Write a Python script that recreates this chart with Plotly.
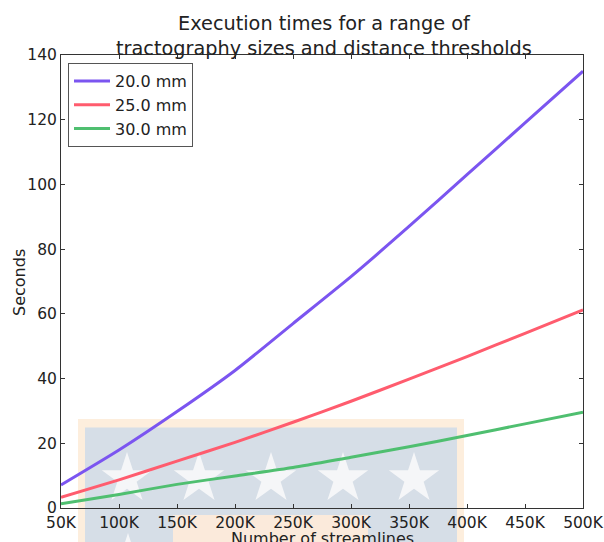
import math
import plotly.graph_objects as go

# ---- data ----
streamlines = [50000, 100000, 150000, 200000, 250000, 300000, 350000, 400000, 450000, 500000]
tick_vals = [50000, 100000, 150000, 200000, 250000, 300000, 350000, 400000, 450000, 500000]
tick_text = ["50K", "100K", "150K", "200K", "250K", "300K", "350K", "400K", "450K", "500K"]
y_ticks = [0, 20, 40, 60, 80, 100, 120, 140]
t_20mm = [7.1, 17.9, 29.8, 42.5, 57.0, 71.5, 87.0, 103.0, 119.0, 135.0]
t_25mm = [3.3, 8.7, 14.5, 20.3, 26.5, 33.0, 39.8, 46.8, 54.0, 61.2]
t_30mm = [1.3, 4.2, 7.3, 9.9, 12.5, 15.7, 18.9, 22.4, 26.0, 29.6]
series_names = ["20.0 mm", "25.0 mm", "30.0 mm"]
series_colors = ["#7b55f0", "#ff5c6e", "#4fbf70"]

W, H = 604, 542
L, R, T, B = 61, 21, 55, 34
PW, PH = W - L - R, H - T - B
FONT = "DejaVu Sans"


def px(x):
    return (x - L) / PW


def py(y):
    return (H - B - y) / PH


fig = go.Figure()
for name, vals, col in zip(series_names, [t_20mm, t_25mm, t_30mm], series_colors):
    fig.add_trace(go.Scatter(x=streamlines, y=vals, mode="lines", name=name,
                             line=dict(color=col, width=3, shape="spline", smoothing=0.6)))

shapes = []
# watermark-like overlay in the lower part of the picture
shapes.append(dict(type="rect", xref="paper", yref="paper", layer="below",
                   x0=px(78), x1=px(464), y0=py(560), y1=py(419),
                   fillcolor="#fdeedd", line=dict(width=0)))
shapes.append(dict(type="rect", xref="paper", yref="paper", layer="below",
                   x0=px(85), x1=px(457), y0=py(560), y1=py(427.5),
                   fillcolor="#d6dee7", line=dict(width=0)))
shapes.append(dict(type="rect", xref="paper", yref="paper", layer="below",
                   x0=px(173), x1=px(368), y0=py(560), y1=py(515),
                   fillcolor="#fbeadb", line=dict(width=0)))


def star(cx, cy, Ro):
    ri = Ro * 0.382
    pts = []
    for k in range(10):
        ang = -math.pi / 2 + k * math.pi / 5
        rr = Ro if k % 2 == 0 else ri
        pts.append((px(cx + rr * math.cos(ang)), py(cy + rr * math.sin(ang))))
    return "M" + " L".join(f"{a:.5f},{b:.5f}" for a, b in pts) + " Z"


for cx in [127, 199, 271, 343, 414]:
    shapes.append(dict(type="path", xref="paper", yref="paper", layer="below",
                       path=star(cx, 478.5, 26.5), fillcolor="#f5f6f8", line=dict(width=0)))
shapes.append(dict(type="path", xref="paper", yref="paper", layer="below",
                   path=star(128, 559.5, 26.5), fillcolor="#f5f6f8", line=dict(width=0)))

axis_common = dict(showline=True, linecolor="#333", linewidth=1, mirror="ticks",
                   ticks="inside", ticklen=4, tickcolor="#333", showgrid=False,
                   zeroline=False, automargin=False,
                   tickfont=dict(family=FONT, size=15.5, color="#222"))

fig.update_layout(
    width=W, height=H,
    margin=dict(l=L, r=R, t=T, b=B, autoexpand=False),
    paper_bgcolor="white", plot_bgcolor="rgba(0,0,0,0)",
    font=dict(family=FONT, color="#222"),
    xaxis=dict(range=[50000, 500000], tickvals=tick_vals, ticktext=tick_text, **axis_common),
    yaxis=dict(range=[0, 140], tickvals=y_ticks, **axis_common),
    showlegend=True,
    legend=dict(x=px(68), y=py(63), xanchor="left", yanchor="top",
                bgcolor="white", bordercolor="#555", borderwidth=1,
                font=dict(family=FONT, size=16, color="#222"), itemwidth=36,
                tracegroupgap=0),
    shapes=shapes,
    annotations=[
        dict(text="Execution times for a range of<br>tractography sizes and distance thresholds",
             xref="paper", yref="paper", x=px(324), y=py(10), xanchor="center", yanchor="top",
             showarrow=False, font=dict(family=FONT, size=19.3, color="#222")),
        dict(text="Seconds", xref="paper", yref="paper", x=px(19), y=py(283),
             xanchor="center", yanchor="middle", textangle=-90, showarrow=False,
             font=dict(family=FONT, size=16, color="#222")),
        dict(text="Number of streamlines", xref="paper", yref="paper", x=px(322), y=py(527),
             xanchor="center", yanchor="top", showarrow=False,
             font=dict(family=FONT, size=16, color="#222")),
    ],
)

fig.write_html("out.html", config={"displayModeBar": False},
               post_script="document.body.style.margin='0';")
